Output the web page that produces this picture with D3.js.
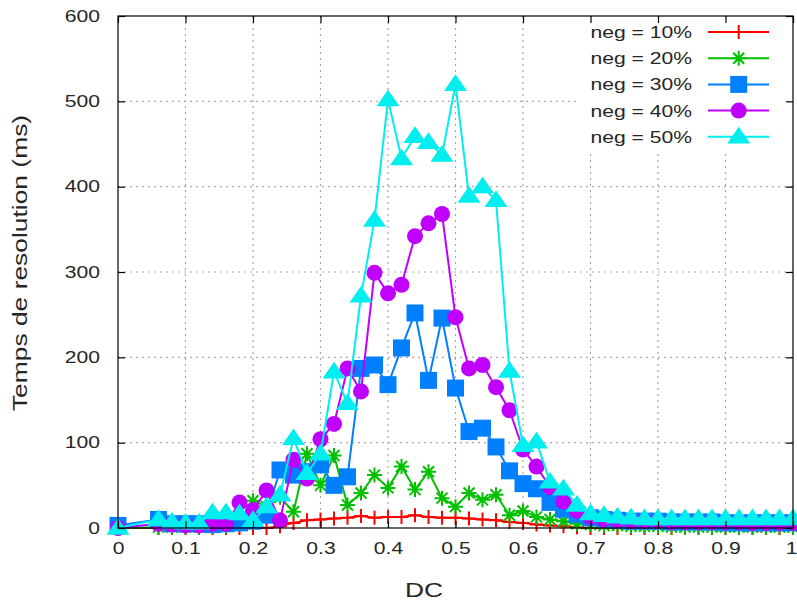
<!DOCTYPE html>
<html>
<head>
<meta charset="utf-8">
<script src="https://cdn.jsdelivr.net/npm/d3@7"></script>
<style>
  html, body { margin: 0; padding: 0; background: #fff; }
  svg { display: block; font-family: "Liberation Sans", Arial, sans-serif; }
</style>
</head>
<body>
<svg id="chart" width="797" height="603"></svg>
<script>
// DC values (x) shared by every series
const dcValues = [0, 0.06, 0.08, 0.10, 0.12, 0.14, 0.16, 0.18, 0.20, 0.22, 0.24, 0.26, 0.28, 0.30,
  0.32, 0.34, 0.36, 0.38, 0.40, 0.42, 0.44, 0.46, 0.48, 0.50, 0.52, 0.54, 0.56, 0.58, 0.60,
  0.62, 0.64, 0.66, 0.68, 0.70, 0.72, 0.74, 0.76, 0.78, 0.80, 0.82, 0.84, 0.86, 0.88, 0.90,
  0.92, 0.94, 0.96, 0.98, 1.00];

// Resolution times (ms) for each proportion of negative literals
const neg10 = [0, 0, 0, 0, 0, 0, 0, 0, 0, 0, 2, 6, 9, 10, 11, 12, 14, 12, 13, 13, 15, 13, 12, 12,
  11, 10, 9, 7, 6, 4, 3, 2, 1, 0, 0, 0, 0, 0, 0, 0, 0, 0, 0, 0, 0, 0, 0, 0, 0];
const neg20 = [0, 1, 1, 1, 1, 2, 2, 5, 32, 25, 36, 19, 87, 50, 85, 27, 41, 62, 47, 72, 45, 66, 35, 25,
  41, 33, 39, 15, 20, 13, 10, 8, 5, 4, 3, 3, 2, 2, 2, 1, 1, 1, 1, 1, 1, 1, 1, 1, 1];
const neg30 = [3, 10, 5, 5, 5, 4, 5, 6, 8, 15, 68, 62, 66, 74, 50, 60, 187, 191, 168, 211, 252, 173, 246, 164,
  113, 117, 95, 67, 52, 46, 30, 22, 16, 12, 10, 9, 8, 8, 8, 7, 7, 7, 7, 6, 6, 6, 6, 6, 6];
const neg40 = [0, 5, 4, 3, 3, 5, 5, 30, 21, 44, 9, 80, 58, 104, 122, 187, 160, 299, 275, 285, 342, 357, 368, 247,
  187, 191, 165, 138, 92, 72, 48, 31, 20, 13, 10, 9, 8, 8, 8, 7, 7, 7, 7, 7, 7, 6, 6, 6, 6];
const neg50 = [0, 10, 7, 6, 6, 18, 18, 17, 9, 25, 39, 105, 64, 87, 183, 146, 272, 361, 502, 433, 459, 452, 437, 520,
  389, 400, 384, 184, 97, 101, 54, 46, 27, 17, 15, 13, 12, 11, 11, 11, 11, 11, 11, 11, 11, 11, 11, 11, 11];

const seriesLabels = ["neg = 10%", "neg = 20%", "neg = 30%", "neg = 40%", "neg = 50%"];
const seriesColors = ["#ff0000", "#00c000", "#0080ff", "#c000ff", "#00eeee"];
const seriesMarkers = ["plus", "star", "square", "circle", "triangle"];

const xTicks = [0, 0.1, 0.2, 0.3, 0.4, 0.5, 0.6, 0.7, 0.8, 0.9, 1];
const yTicks = [0, 100, 200, 300, 400, 500, 600];
const xTitle = "DC";
const yTitle = "Temps de resolution (ms)";

const allSeries = [neg10, neg20, neg30, neg40, neg50];

const svg = d3.select("#chart");
const plotL = 118, plotR = 793, plotT = 16, plotB = 528;
const x = d3.scaleLinear().domain([0, 1]).range([plotL, plotR]);
const y = d3.scaleLinear().domain([0, 600]).range([plotB, plotT]);

const textColor = "#262626";
const stretch = 1.28;   // wide glyph rendering of the plotting terminal

// grid
const grid = svg.append("g").attr("stroke", "#a8a8a8").attr("stroke-width", 1.2)
  .attr("stroke-dasharray", "2,4");
grid.selectAll("line.gx").data(xTicks.filter(d => d > 0 && d < 1)).join("line").attr("class", "gx")
  .attr("x1", d => x(d)).attr("x2", d => x(d)).attr("y1", plotT).attr("y2", plotB);
grid.selectAll("line.gy").data(yTicks.filter(d => d > 0 && d < 600)).join("line").attr("class", "gy")
  .attr("x1", plotL).attr("x2", plotR).attr("y1", d => y(d)).attr("y2", d => y(d));

// legend backdrop hides the grid behind the key
svg.append("rect").attr("x", 580).attr("y", plotT + 1).attr("width", plotR - 581).attr("height", 133)
  .attr("fill", "#fff");

// marker shapes
function markerPath(type, cx, cy) {
  const p = d3.path();
  if (type === "plus") {
    p.moveTo(cx - 7, cy); p.lineTo(cx + 7, cy);
    p.moveTo(cx, cy - 7); p.lineTo(cx, cy + 7);
  } else if (type === "star") {
    p.moveTo(cx - 7.5, cy); p.lineTo(cx + 7.5, cy);
    p.moveTo(cx, cy - 7.5); p.lineTo(cx, cy + 7.5);
    p.moveTo(cx - 5.5, cy - 5.5); p.lineTo(cx + 5.5, cy + 5.5);
    p.moveTo(cx - 5.5, cy + 5.5); p.lineTo(cx + 5.5, cy - 5.5);
  } else if (type === "square") {
    p.rect(cx - 8.5, cy - 8.5, 17, 17);
  } else if (type === "circle") {
    p.moveTo(cx + 8, cy); p.arc(cx, cy, 8, 0, 2 * Math.PI);
  } else {
    p.moveTo(cx, cy - 10); p.lineTo(cx + 11.5, cy + 6.7); p.lineTo(cx - 11.5, cy + 6.7); p.closePath();
  }
  return p.toString();
}
function styleMarker(sel, type, color) {
  if (type === "plus" || type === "star") {
    sel.attr("fill", "none").attr("stroke", color).attr("stroke-width", 2);
  } else {
    sel.attr("fill", color).attr("stroke", "none");
  }
}

// series: line then markers, later series on top
const line = d3.line().x(d => x(d[0])).y(d => y(d[1]));
allSeries.forEach((vals, i) => {
  const pts = dcValues.map((d, j) => [d, vals[j]]);
  const g = svg.append("g");
  g.append("path").attr("d", line(pts)).attr("fill", "none")
    .attr("stroke", seriesColors[i]).attr("stroke-width", 2).attr("stroke-linejoin", "round");
  g.selectAll("path.m").data(pts).join("path").attr("class", "m")
    .attr("d", d => markerPath(seriesMarkers[i], x(d[0]), y(d[1])))
    .call(styleMarker, seriesMarkers[i], seriesColors[i]);
});

// border
svg.append("rect").attr("x", plotL).attr("y", plotT).attr("width", plotR - plotL).attr("height", plotB - plotT)
  .attr("fill", "none").attr("stroke", "#000").attr("stroke-width", 1.2);

// axes with inward ticks, mirrored on the opposite sides
const fmt = d3.format("~g");
const axB = svg.append("g").attr("transform", `translate(0,${plotB})`)
  .call(d3.axisBottom(x).tickValues(xTicks).tickSizeInner(-7).tickSizeOuter(0).tickPadding(14).tickFormat(fmt));
const axL = svg.append("g").attr("transform", `translate(${plotL},0)`)
  .call(d3.axisLeft(y).tickValues(yTicks).tickSizeInner(-7).tickSizeOuter(0).tickPadding(18).tickFormat(fmt));
const axT = svg.append("g").attr("transform", `translate(0,${plotT})`)
  .call(d3.axisTop(x).tickValues(xTicks).tickSizeInner(-7).tickSizeOuter(0).tickFormat(""));
const axR = svg.append("g").attr("transform", `translate(${plotR},0)`)
  .call(d3.axisRight(y).tickValues(yTicks).tickSizeInner(-7).tickSizeOuter(0).tickFormat(""));
[axB, axL, axT, axR].forEach(a => {
  a.select(".domain").remove();
  a.selectAll(".tick line").attr("stroke", "#000").attr("stroke-width", 1.2);
  a.selectAll("text").attr("font-family", "Liberation Sans, Arial, sans-serif")
    .attr("font-size", 16.5).attr("fill", textColor);
});
axB.selectAll(".tick text").attr("transform", `scale(${stretch},1)`)
  .attr("x", d => (d === 1 ? -1.5 : 0));
axL.selectAll(".tick text").attr("x", -18 / stretch).attr("transform", `scale(${stretch},1)`);

// axis titles
svg.append("g").attr("transform", "translate(424,597)")
  .append("text").attr("transform", "scale(1.32,1)").attr("text-anchor", "middle")
  .attr("font-size", 20).attr("fill", textColor).text(xTitle);
svg.append("g").attr("transform", "translate(27,263) rotate(-90)")
  .append("text").attr("transform", "scale(1.32,1)").attr("text-anchor", "middle")
  .attr("font-size", 20).attr("fill", textColor).text(yTitle);

// legend
const key = svg.append("g");
seriesLabels.forEach((lab, i) => {
  const ky = 32 + i * 26.2;
  key.append("g").attr("transform", `translate(692,${ky + 6})`)
    .append("text").attr("transform", `scale(${stretch},1)`).attr("text-anchor", "end")
    .attr("font-size", 16.5).attr("fill", textColor).text(lab);
  key.append("line").attr("x1", 708).attr("x2", 769).attr("y1", ky).attr("y2", ky)
    .attr("stroke", seriesColors[i]).attr("stroke-width", 2);
  key.append("path").attr("d", markerPath(seriesMarkers[i], 738.7, ky))
    .call(styleMarker, seriesMarkers[i], seriesColors[i]);
});
</script>
</body>
</html>
